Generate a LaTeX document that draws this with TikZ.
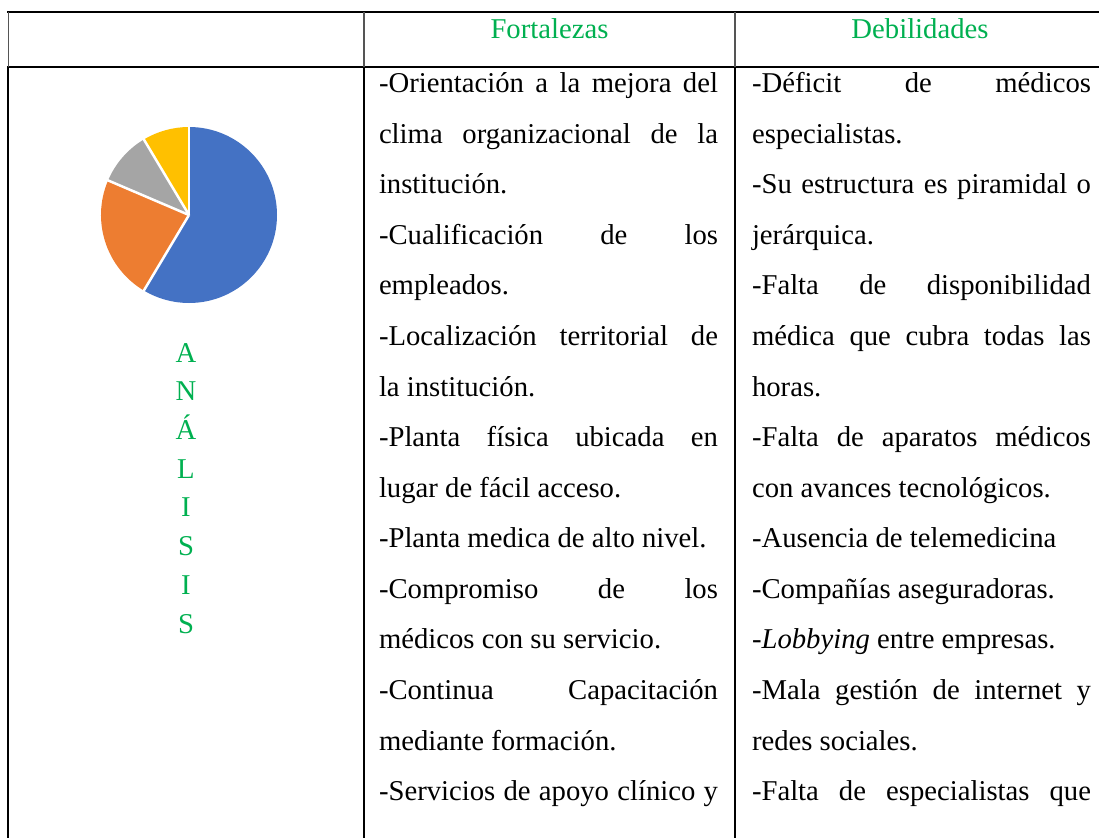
\documentclass[tikz,border=0pt]{standalone}
\usepackage{fontspec}
\setmainfont{Liberation Serif}
\definecolor{hdrgreen}{HTML}{00B050}
\definecolor{pieblue}{HTML}{4472C4}
\definecolor{pieorange}{HTML}{ED7D31}
\definecolor{piegray}{HTML}{A5A5A5}
\definecolor{pieyellow}{HTML}{FFC000}
\definecolor{hdrline}{HTML}{555555}
\tikzset{
  txt/.style={inner sep=0pt, outer sep=0pt, font=\fontsize{28.7}{34}\selectfont, text=black},
  lbl/.style={txt, text=hdrgreen, anchor=base},
  hrule/.style={line width=2pt, black},
  vbody/.style={line width=2pt, black},
  vhead/.style={line width=1.1pt, hdrline},
  sep/.style={white, line width=2.5pt},
}
\newcommand\jtxt[1]{\makebox[339pt][s]{#1}}
\begin{document}
\begin{tikzpicture}[x=1pt,y=-1pt]
\useasboundingbox (0,0) rectangle (1099,838);
% table rules
\draw[hrule] (7.3,12) -- (1099,12);
\draw[hrule] (7.3,67) -- (1099,67);
\draw[vhead] (8.3,12) -- (8.3,67);
\draw[vhead] (364,12) -- (364,67);
\draw[vhead] (735,12) -- (735,67);
\draw[vbody] (8.3,67) -- (8.3,838);
\draw[vbody] (364,67) -- (364,838);
\draw[vbody] (735,67) -- (735,838);
% headers
\node[lbl] (hf) at (549.5,38.7) {Fortalezas};
\node[lbl] (hd) at (920,38.7) {Debilidades};
% pie chart
\coordinate (pc) at (189,215);
\begin{scope}[shift={(pc)}, y=1pt]
  \fill[pieblue] (0,0) -- (90:88) arc[start angle=90, end angle=-120.86, radius=88] -- cycle;
  \fill[pieorange] (0,0) -- (-120.86:88) arc[start angle=-120.86, end angle=-203.14, radius=88] -- cycle;
  \fill[piegray] (0,0) -- (156.86:88) arc[start angle=156.86, end angle=120.86, radius=88] -- cycle;
  \fill[pieyellow] (0,0) -- (120.86:88) arc[start angle=120.86, end angle=90, radius=88] -- cycle;
  \draw[sep] (0,0) -- (90:89);
  \draw[sep] (0,0) -- (-120.86:89);
  \draw[sep] (0,0) -- (156.86:89);
  \draw[sep] (0,0) -- (120.86:89);
\end{scope}
% vertical label
\node[lbl] (l1) at (186,362) {A};
\node[lbl] (l2) at (186,400.7) {N};
\node[lbl] (l3) at (186,439.4) {Á};
\node[lbl] (l4) at (186,478.1) {L};
\node[lbl] (l5) at (186,516.8) {I};
\node[lbl] (l6) at (186,555.5) {S};
\node[lbl] (l7) at (186,594.2) {I};
\node[lbl] (l8) at (186,633) {S};
% Fortalezas column
\begin{scope}[every node/.style={txt, anchor=base west}]
\node (f1) at (379,92.7) {\jtxt{-Orientación a la mejora del}};
\node (f2) at (379,143.27) {\jtxt{clima organizacional de la}};
\node (f3) at (379,193.84) {institución.};
\node (f4) at (379,244.41) {\jtxt{-Cualificación de los}};
\node (f5) at (379,294.98) {empleados.};
\node (f6) at (379,345.55) {\jtxt{-Localización territorial de}};
\node (f7) at (379,396.12) {la institución.};
\node (f8) at (379,446.69) {\jtxt{-Planta física ubicada en}};
\node (f9) at (379,497.26) {lugar de fácil acceso.};
\node (f10) at (379,547.83) {-Planta medica de alto nivel.};
\node (f11) at (379,598.4) {\jtxt{-Compromiso de los}};
\node (f12) at (379,648.97) {médicos con su servicio.};
\node (f13) at (379,699.54) {\jtxt{-Continua Capacitación}};
\node (f14) at (379,750.11) {mediante formación.};
\node (f15) at (379,800.68) {\jtxt{-Servicios de apoyo clínico y}};
% Debilidades column
\node (d1) at (752,92.7) {\jtxt{-Déficit de médicos}};
\node (d2) at (752,143.27) {especialistas.};
\node (d3) at (752,193.84) {\jtxt{-Su estructura es piramidal o}};
\node (d4) at (752,244.41) {jerárquica.};
\node (d5) at (752,294.98) {\jtxt{-Falta de disponibilidad}};
\node (d6) at (752,345.55) {\jtxt{médica que cubra todas las}};
\node (d7) at (752,396.12) {horas.};
\node (d8) at (752,446.69) {\jtxt{-Falta de aparatos médicos}};
\node (d9) at (752,497.26) {con avances tecnológicos.};
\node (d10) at (752,547.83) {-Ausencia de telemedicina};
\node (d11) at (752,598.4) {-Compañías aseguradoras.};
\node (d12) at (752,648.97) {-\textit{Lobbying} entre empresas.};
\node (d13) at (752,699.54) {\jtxt{-Mala gestión de internet y}};
\node (d14) at (752,750.11) {redes sociales.};
\node (d15) at (752,800.68) {\jtxt{-Falta de especialistas que}};
\end{scope}
\end{tikzpicture}
\end{document}
